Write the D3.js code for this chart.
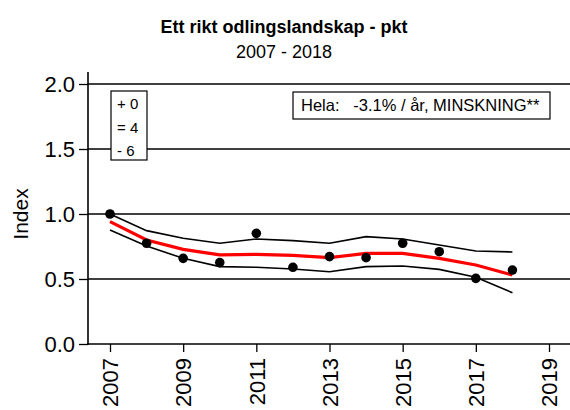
<!DOCTYPE html>
<html><head><meta charset="utf-8">
<script src="https://cdn.jsdelivr.net/npm/d3@7"></script>
<style>body{margin:0;background:#fff}svg{display:block}text{font-family:"Liberation Sans",Arial,sans-serif}</style>
</head><body><div id="chart"></div>
<script>
const years = [2007,2008,2009,2010,2011,2012,2013,2014,2015,2016,2017,2018];
const observed = [1.0,0.775,0.659,0.626,0.851,0.590,0.672,0.664,0.775,0.710,0.505,0.569];
const trend = [0.941,0.80,0.728,0.685,0.690,0.682,0.664,0.697,0.697,0.659,0.608,0.531];
const upper = [1.0,0.872,0.813,0.775,0.808,0.795,0.775,0.826,0.808,0.762,0.715,0.708];
const lower = [0.877,0.754,0.659,0.595,0.590,0.577,0.556,0.595,0.600,0.574,0.513,0.395];
const yTicks = [0.0,0.5,1.0,1.5,2.0];
const xTicks = [2007,2009,2011,2013,2015,2017,2019];
const legendLines = ["+ 0","= 4","- 6"];
const summary = "Hela:   -3.1% / år, MINSKNING**";

const W=570,H=410;
const FONT="Liberation Sans, Arial, sans-serif";
const svg=d3.select("#chart").append("svg").attr("width",W).attr("height",H);
const x=d3.scaleLinear().domain([2007,2019]).range([110,549]);
const y=d3.scaleLinear().domain([0,2]).range([344,84]);
const left=88,right=570;

// gridlines
svg.append("g").selectAll("line").data(yTicks.filter(d=>d>0)).join("line")
 .attr("x1",left).attr("x2",right).attr("y1",d=>y(d)).attr("y2",d=>y(d))
 .attr("stroke","#000").attr("stroke-width",1.3);

// y axis
const ya=svg.append("g").attr("transform",`translate(${left},0)`)
 .call(d3.axisLeft(y).tickValues(yTicks).tickFormat(d3.format(".1f")).tickSize(9).tickPadding(4));
ya.select(".domain").remove();
ya.selectAll("line").attr("stroke-width",1.3);
ya.selectAll("text").attr("font-size",22).attr("fill","#000").style("font-family",FONT);
svg.append("line").attr("x1",left).attr("x2",left).attr("y1",72).attr("y2",345).attr("stroke","#000").attr("stroke-width",1.6);

// x axis
svg.append("line").attr("x1",left-1).attr("x2",right).attr("y1",344).attr("y2",344).attr("stroke","#000").attr("stroke-width",1.6);
const xa=svg.append("g").attr("transform","translate(0,344)")
 .call(d3.axisBottom(x).tickValues(xTicks).tickFormat(d3.format("d")).tickSize(8));
xa.select(".domain").remove();
xa.selectAll("line").attr("stroke-width",1.3);
xa.selectAll("text").attr("font-size",22).attr("fill","#000")
 .attr("transform","rotate(-90)").attr("text-anchor","end").attr("dy","0.35em").attr("x",-14).attr("y",0)
 .style("font-family",FONT);

const line=d3.line().x((d,i)=>x(years[i])).y(d=>y(d));
svg.append("path").datum(upper).attr("d",line).attr("fill","none").attr("stroke","#000").attr("stroke-width",1.6);
svg.append("path").datum(lower).attr("d",line).attr("fill","none").attr("stroke","#000").attr("stroke-width",1.6);
svg.append("path").datum(trend).attr("d",line).attr("fill","none").attr("stroke","#ff0000").attr("stroke-width",3.2);
svg.append("g").selectAll("circle").data(observed).join("circle")
 .attr("cx",(d,i)=>x(years[i])).attr("cy",d=>y(d)).attr("r",4.8).attr("fill","#000");

// titles
svg.append("text").attr("x",284).attr("y",33).attr("text-anchor","middle").attr("font-size",18).attr("font-weight","bold").text("Ett rikt odlingslandskap - pkt");
svg.append("text").attr("x",284).attr("y",58).attr("text-anchor","middle").attr("font-size",18).text("2007 - 2018");
svg.append("text").attr("transform","translate(28,214) rotate(-90)").attr("text-anchor","middle").attr("font-size",21).text("Index");

// legend box
svg.append("rect").attr("x",111).attr("y",91).attr("width",36).attr("height",69).attr("fill","#fff").attr("stroke","#000").attr("stroke-width",1.2);
svg.append("g").selectAll("text").data(legendLines).join("text")
 .attr("x",117).attr("y",(d,i)=>109+i*23.5).attr("font-size",15).text(d=>d);

// summary box
svg.append("rect").attr("x",293).attr("y",92).attr("width",257).attr("height",27).attr("fill","#fff").attr("stroke","#000").attr("stroke-width",1.2);
svg.append("text").attr("x",301).attr("y",111).attr("font-size",16.5).attr("xml:space","preserve").style("white-space","pre").text(summary);
</script></body></html>
